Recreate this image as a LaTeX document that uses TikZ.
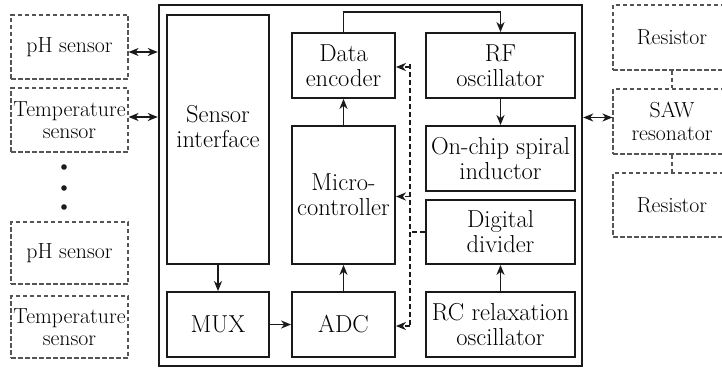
\documentclass[tikz,border=0pt]{standalone}
\usepackage{tikz}
\usetikzlibrary{arrows.meta, positioning, calc}
\definecolor{mline}{HTML}{1A1A1A}
\definecolor{mdash}{HTML}{555555}
\tikzset{
  blk/.style={draw=mline, line width=1.8pt, align=center, inner sep=2pt,
              font=\fontsize{24.5}{25}\selectfont},
  sbox/.style={draw=mdash, dash pattern=on 4.5pt off 2.5pt, line width=1.1pt,
               align=center, inner sep=2pt, font=\fontsize{21.8}{22.5}\selectfont},
  arr/.style={-{Stealth[length=10pt,width=8pt,inset=3pt]}, line width=1.5pt, mline},
  darr/.style={{Stealth[length=10pt,width=8pt,inset=3pt]}-{Stealth[length=10pt,width=8pt,inset=3pt]},
               line width=1.5pt, mline},
  dline/.style={mline, line width=1.5pt, dash pattern=on 5pt off 3pt},
}
\begin{document}
\begin{tikzpicture}[x=1pt, y=-1pt]
  \useasboundingbox (0,0) rectangle (722,369);

  %% -- chip outline --
  \node[draw=mline, line width=2.4pt, minimum width=423pt, minimum height=361pt] (chip) at (370.5,185.5) {};

  %% -- external sensors --
  \node[sbox, minimum width=117pt, minimum height=64pt] (pha) at (69.5,47) {pH sensor};
  \node[sbox, minimum width=117pt, minimum height=64pt] (tempa) at (69.5,120) {Temperature\\sensor};
  \foreach \y [count=\i] in {167,188,207}
    \fill[mline] (64,\y) circle (2.8pt) coordinate (dot\i);
  \node[sbox, minimum width=117pt, minimum height=62pt] (phb) at (69.5,253) {pH sensor};
  \node[sbox, minimum width=117pt, minimum height=62pt] (tempb) at (69.5,327) {Temperature\\sensor};

  %% -- inner blocks --
  \node[blk, minimum width=102pt, minimum height=249pt,
        label={[blk, draw=none, yshift=13pt]center:Sensor\\interface}] (sif) at (218,139.5) {};
  \node[blk, minimum width=102pt, minimum height=65pt] (mux) at (218,324.5) {MUX};
  \node[blk, minimum width=103pt, minimum height=65pt] (enc) at (343.5,65.5) {Data\\encoder};
  \node[blk, minimum width=103pt, minimum height=138pt] (mcu) at (343.5,195) {Micro-\\controller};
  \node[blk, minimum width=103pt, minimum height=65pt] (adc) at (343.5,324.5) {ADC};
  \node[blk, minimum width=149pt, minimum height=65pt] (rf) at (500.5,65.5) {RF\\oscillator};
  \node[blk, minimum width=149pt, minimum height=65pt] (ind) at (500.5,158.5) {On-chip spiral\\inductor};
  \node[blk, minimum width=149pt, minimum height=64pt] (div) at (500.5,232) {Digital\\divider};
  \node[blk, minimum width=149pt, minimum height=65pt] (rco) at (500.5,324.5) {RC relaxation\\oscillator};

  %% -- SAW side --
  \node[sbox, minimum width=118pt, minimum height=65pt] (resa) at (672,37.5) {Resistor};
  \node[sbox, minimum width=118pt, minimum height=65pt] (saw) at (672,121.5) {SAW\\resonator};
  \node[sbox, minimum width=118pt, minimum height=64pt] (resb) at (672,205) {Resistor};
  \draw[mdash, line width=1.1pt, dash pattern=on 4.5pt off 2.5pt] (resa.south) -- (saw.north);
  \draw[mdash, line width=1.1pt, dash pattern=on 4.5pt off 2.5pt] (saw.south) -- (resb.north);

  %% -- links --
  \draw[darr] ([yshift=-5pt]pha.east) -- ([yshift=-5pt]pha.east -| chip.west);
  \draw[darr] ([yshift=3pt]tempa.east) -- ([yshift=3pt]tempa.east -| chip.west);
  \draw[darr] ([yshift=4pt]saw.west -| chip.east) -- ([yshift=4pt]saw.west);
  \draw[arr] (sif) -- (mux);
  \draw[arr] (mux) -- (adc);
  \draw[arr] (adc) -- (mcu);
  \draw[arr] (mcu) -- (enc);
  \draw[arr] (enc.north) -- ++(0,-20) -| (rf.north);
  \draw[arr] (rf) -- (ind);
  \draw[arr] (rco) -- (div);

  %% -- control bus (dashed) --
  \coordinate (bus) at (410,0);
  \draw[dline] ([yshift=1.5pt]bus |- enc.east) -- (bus |- adc.east);
  \draw[dline] (div.west) -- (div.west -| bus);
  \foreach \n in {enc,mcu,adc}
    \draw[dline, -{Stealth[length=10pt,width=8pt,inset=3pt]}] ([yshift=-1.5pt]bus |- \n.east) -- ([yshift=-1.5pt]\n.east);
\end{tikzpicture}
\end{document}
